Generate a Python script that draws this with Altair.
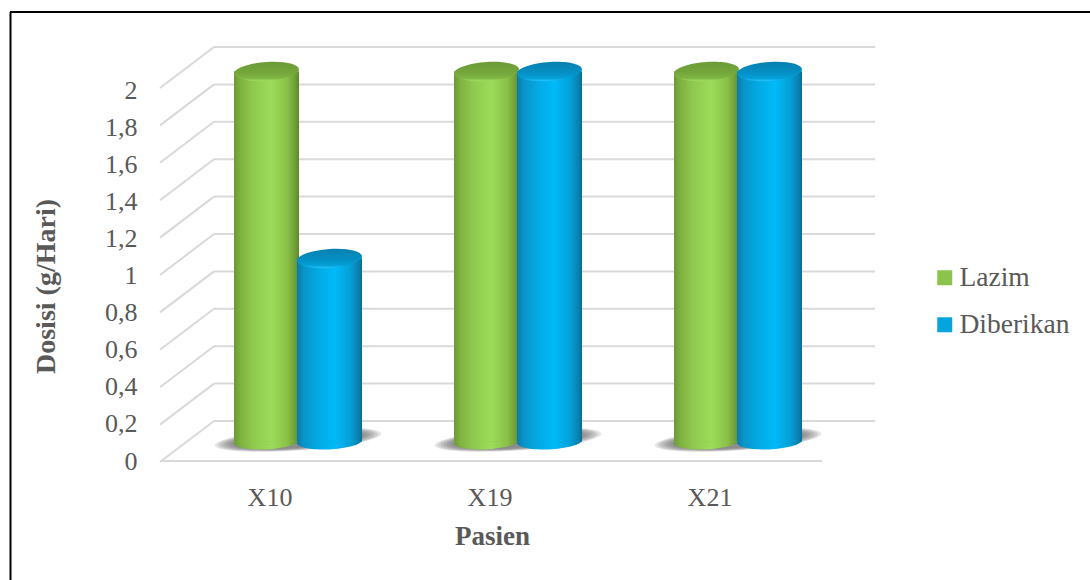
import altair as alt
import pandas as pd

# Doses per patient, in g/day
patients = ["X10", "X19", "X21"]
required = [2, 2, 2]
given = [1, 2, 2]
series_names = ["Lazim", "Diberikan"]
grid_values = [0, 0.2, 0.4, 0.6, 0.8, 1, 1.2, 1.4, 1.6, 1.8, 2]

TEXT = "#595959"
FONT = "Liberation Serif"
GRID = "#d9d9d9"
LEFT = 150
BOTTOM = 462
WIDTH = 940

rows = pd.DataFrame(
    [{"pasien": p, "seri": series_names[0], "dosis": v} for p, v in zip(patients, required)]
    + [{"pasien": p, "seri": series_names[1], "dosis": v} for p, v in zip(patients, given)]
)
grid = pd.DataFrame({"v": grid_values})
# The floor recedes by a fixed rise, expressed in value units of the wall scale
DEPTH = 41 / 187.0
grid["front"] = grid["v"] - DEPTH

x_scale = alt.Scale(domain=patients, range=[160 - LEFT, 820 - LEFT], paddingInner=0, paddingOuter=0)
x_axis = alt.Axis(
    domain=False, ticks=False, grid=False, labelAngle=0, labelFont=FONT, labelFontSize=26, labelColor=TEXT,
    labelPadding=22, title="Pasien", titleFont=FONT, titleFontSize=27, titleFontWeight="bold",
    titleColor=TEXT, titleX=492 - LEFT, titleY=61)
x_plain = alt.X("pasien:N", scale=x_scale, axis=x_axis)
wall_scale = alt.Scale(domain=[0, 2], range=[421, 47])
bar_scale = alt.Scale(domain=[0, 2], range=[445.5, 71.5])
front_scale = alt.Scale(domain=[0, 2], range=[461, 90])


def linear(stops, horizontal=True):
    return alt.Gradient(
        gradient="linear",
        stops=[alt.GradientStop(offset=o, color=c) for o, c in stops],
        x1=0, y1=0, x2=1 if horizontal else 0, y2=0 if horizontal else 1,
    )


# Depth of the cylinders behind the category labels
BAR_SHIFT = 28

STYLE = {
    "Lazim": {
        "offset": BAR_SHIFT - 31.5,
        "body": linear([(0, "#6a9a33"), (0.1, "#7fb23f"), (0.3, "#8fca4e"), (0.58, "#9cdc5a"),
                        (0.82, "#8ac048"), (0.95, "#6d9c35"), (1, "#5b8529")]),
        "top": linear([(0, "#6b9b36"), (0.55, "#74a63b"), (0.85, "#7fb644"), (1, "#a4e063")], horizontal=False),
    },
    "Diberikan": {
        "offset": BAR_SHIFT + 31.5,
        "body": linear([(0, "#0a79a8"), (0.1, "#0a93c8"), (0.3, "#03a8e2"), (0.58, "#00baf9"),
                        (0.82, "#04a0d6"), (0.95, "#0a7fae"), (1, "#0b6a90")]),
        "top": linear([(0, "#0780af"), (0.55, "#058fc4"), (0.85, "#049fd8"), (1, "#25c6fb")], horizontal=False),
    },
}

TOP_PATH = "M-1,0.06 A1,0.29,-4,1,1,1,-0.06 A1,0.29,-4,1,1,-1,0.06 Z"
BASE_PATH = "M-1,0.04 A1,0.24,-3,1,0,1,-0.04 A1,0.24,-3,1,0,-1,0.04 Z"
SHADOW_PATH = "M-1,0.06 A1,0.13,-4,1,1,1,-0.06 A1,0.13,-4,1,1,-1,0.06 Z"
BAR_SIZE = 65

layers = []

# Page frame
layers.append(alt.Chart(grid.head(1)).mark_rule(color="black", strokeWidth=2).encode(
    x=alt.value(10 - LEFT), x2=alt.value(WIDTH), y=alt.value(12)))
layers.append(alt.Chart(grid.head(1)).mark_rule(color="black", strokeWidth=2).encode(
    x=alt.value(10.5 - LEFT), y=alt.value(12), y2=alt.value(580)))

# Back wall lines, left wall diagonals and the front floor edge
layers.append(alt.Chart(grid).mark_rule(color=GRID, strokeWidth=2).encode(
    x=alt.value(214 - LEFT), x2=alt.value(875 - LEFT),
    y=alt.Y("v:Q", scale=wall_scale, axis=None)))
layers.append(alt.Chart(grid).mark_rule(color=GRID, strokeWidth=2).encode(
    x=alt.value(214 - LEFT), x2=alt.value(160 - LEFT),
    y=alt.Y("v:Q", scale=wall_scale, axis=None), y2="front:Q"))
layers.append(alt.Chart(grid.head(1)).mark_rule(color=GRID, strokeWidth=2).encode(
    x=alt.value(160 - LEFT), x2=alt.value(822 - LEFT),
    y=alt.Y("v:Q", scale=front_scale, axis=alt.Axis(
        values=grid_values, format="~g", labelExpr="replace(datum.label, '.', ',')",
        domain=False, ticks=False, grid=False, labelFont=FONT, labelFontSize=26, labelColor=TEXT,
        labelPadding=13, labelBaseline="middle", title="Dosisi (g/Hari)", titleFont=FONT,
        titleFontSize=28, titleFontWeight="bold", titleColor=TEXT, titleX=60 - LEFT, titleY=286))))

# Soft contact shadows under each pair of cylinders, built up from nested ellipses
shadow_rows = rows[rows["seri"] == series_names[0]]
for spread in (166, 160, 154, 148, 142, 136, 130):
    layers.append(alt.Chart(shadow_rows).mark_point(
        shape=SHADOW_PATH, size=spread ** 2, filled=True, fill="#666666", opacity=0.17, strokeWidth=0,
        xOffset=BAR_SHIFT, yOffset=-6,
    ).encode(x=x_plain, y=alt.Y("zero:Q", scale=bar_scale, axis=None)).transform_calculate(zero="0"))

# Cylinders: base ellipse, body and top ellipse for each series
for name in series_names:
    sub = rows[rows["seri"] == name]
    st = STYLE[name]
    layers.append(alt.Chart(sub).mark_point(
        shape=BASE_PATH, size=BAR_SIZE ** 2, filled=True, fill=st["body"], opacity=1, strokeWidth=0,
        xOffset=st["offset"], yOffset=-4,
    ).encode(x=x_plain, y=alt.Y("zero:Q", scale=bar_scale, axis=None)).transform_calculate(zero="0"))
    layers.append(alt.Chart(sub).mark_bar(size=BAR_SIZE, xOffset=st["offset"], y2Offset=-4).encode(
        x=x_plain,
        y=alt.Y("dosis:Q", scale=bar_scale, axis=None),
        y2=alt.Y2(datum=0),
        color=alt.Color("seri:N", scale=alt.Scale(domain=series_names, range=["#8cc34a", "#05a5dc"]),
                        legend=alt.Legend(
                            orient="none", legendX=931 - LEFT, legendY=264, title=None, padding=0,
                            symbolType="square", symbolSize=225, symbolStrokeWidth=0, rowPadding=18,
                            labelFont=FONT, labelFontSize=27.5, labelColor=TEXT, labelOffset=1)),
    ))
    layers.append(alt.Chart(sub).mark_bar(size=BAR_SIZE, xOffset=st["offset"], y2Offset=-4, fill=st["body"]).encode(
        x=x_plain,
        y=alt.Y("dosis:Q", scale=bar_scale, axis=None),
        y2=alt.Y2(datum=0),
    ))
    layers.append(alt.Chart(sub).mark_point(
        shape=TOP_PATH, size=BAR_SIZE ** 2, filled=True, fill=st["top"], opacity=1, strokeWidth=0,
        xOffset=st["offset"],
    ).encode(x=x_plain, y=alt.Y("dosis:Q", scale=bar_scale, axis=None)))

chart = alt.layer(*layers).resolve_scale(y="independent").properties(
    width=WIDTH,
    height=BOTTOM,
    background="white",
    padding={"left": LEFT, "top": 0, "right": 0, "bottom": 580 - BOTTOM},
    autosize=alt.AutoSizeParams(type="none"),
).configure_view(stroke=None)

chart.save("out.html", embed_options={"renderer": "svg", "actions": False})
